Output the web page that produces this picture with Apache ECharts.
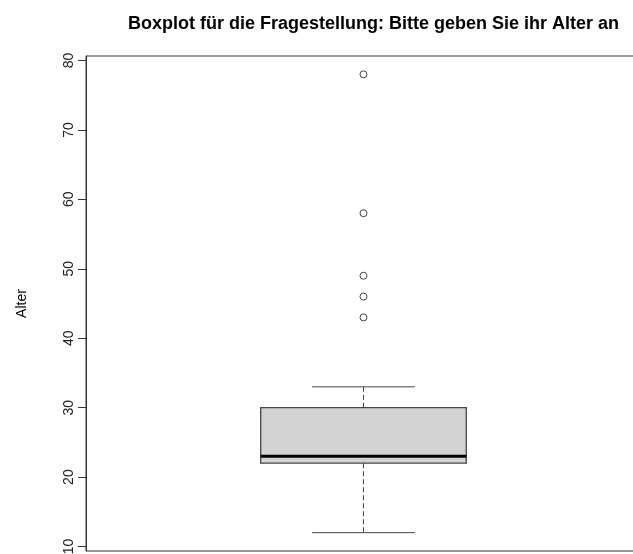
<!DOCTYPE html>
<html>
<head>
<meta charset="utf-8">
<script src="https://cdn.jsdelivr.net/npm/echarts@6/dist/echarts.min.js"></script>
<style>
html,body{margin:0;padding:0;background:#fff;overflow:hidden;}
#chart{width:633px;height:554px;}
</style>
</head>
<body>
<div id="chart"></div>
<script>
// Data
const categories = ['Alter'];
const boxStats = [12, 22, 23, 30, 33]; // lower whisker, Q1, median, Q3, upper whisker
const outliers = [43, 46, 49, 58, 78];
const yTicks = [10, 20, 30, 40, 50, 60, 70, 80];
const titleText = 'Boxplot für die Fragestellung: Bitte geben Sie ihr Alter an';
const yName = 'Alter';

// R-style axis extension (4% beyond data range)
const dataMin = Math.min(boxStats[0], ...outliers);
const dataMax = Math.max(boxStats[4], ...outliers);
const ext = (dataMax - dataMin) * 0.04;

const chart = echarts.init(document.getElementById('chart'), null, {renderer: 'canvas'});
const font = '"Liberation Sans", Arial, sans-serif';

chart.setOption({
  backgroundColor: '#ffffff',
  animation: false,
  title: {
    text: titleText,
    left: 123,
    top: 10,
    textStyle: {fontFamily: font, fontWeight: 'bold', fontSize: 18, color: '#000'}
  },
  grid: {
    left: 86, width: 555, top: 56, height: 495,
    outerBoundsMode: 'none',
    containLabel: false,
    show: true, borderColor: '#333', borderWidth: 1, backgroundColor: 'transparent'
  },
  xAxis: {
    type: 'value', min: 0.46, max: 1.54,
    axisLine: {show: false}, axisTick: {show: false}, axisLabel: {show: false}, splitLine: {show: false}
  },
  yAxis: {
    type: 'value',
    min: dataMin - ext, max: dataMax + ext,
    name: yName,
    nameLocation: 'middle',
    nameGap: 57,
    nameRotate: 90,
    nameTextStyle: {fontFamily: font, fontSize: 14, color: '#000'},
    axisLine: {show: true, lineStyle: {color: '#333', width: 1}},
    axisTick: {show: true, length: 8, customValues: yTicks, lineStyle: {color: '#333'}},
    axisLabel: {
      customValues: yTicks, rotate: 90, margin: 10,
      fontFamily: font, fontSize: 14, color: '#222'
    },
    splitLine: {show: false}
  },
  series: [
    {
      type: 'custom',
      name: categories[0],
      data: [[1].concat(boxStats)],
      renderItem: function (params, api) {
        const x = api.value(0);
        const lo = api.value(1), q1 = api.value(2), med = api.value(3), q3 = api.value(4), hi = api.value(5);
        const hb = 0.2, hc = 0.1;
        const tl = api.coord([x - hb, q3]);
        const br = api.coord([x + hb, q1]);
        const mL = api.coord([x - hb, med]);
        const mR = api.coord([x + hb, med]);
        const cTopL = api.coord([x - hc, hi]);
        const cTopR = api.coord([x + hc, hi]);
        const cBotL = api.coord([x - hc, lo]);
        const cBotR = api.coord([x + hc, lo]);
        const cHi = api.coord([x, hi]);
        const cQ3 = api.coord([x, q3]);
        const cQ1 = api.coord([x, q1]);
        const cLo = api.coord([x, lo]);
        const lineCol = '#444';
        return {
          type: 'group',
          children: [
            {type: 'line', shape: {x1: cHi[0], y1: cHi[1], x2: cQ3[0], y2: cQ3[1]},
             style: {stroke: lineCol, lineWidth: 1, lineDash: [5, 3]}},
            {type: 'line', shape: {x1: cQ1[0], y1: cQ1[1], x2: cLo[0], y2: cLo[1]},
             style: {stroke: lineCol, lineWidth: 1, lineDash: [5, 3]}},
            {type: 'line', shape: {x1: cTopL[0], y1: cTopL[1], x2: cTopR[0], y2: cTopR[1]},
             style: {stroke: lineCol, lineWidth: 1}},
            {type: 'line', shape: {x1: cBotL[0], y1: cBotL[1], x2: cBotR[0], y2: cBotR[1]},
             style: {stroke: lineCol, lineWidth: 1}},
            {type: 'rect', shape: {x: tl[0], y: tl[1], width: br[0] - tl[0], height: br[1] - tl[1]},
             style: {fill: '#d3d3d3', stroke: lineCol, lineWidth: 1.3}},
            {type: 'line', shape: {x1: mL[0], y1: mL[1], x2: mR[0], y2: mR[1]},
             style: {stroke: '#000', lineWidth: 3}}
          ]
        };
      }
    },
    {
      type: 'scatter',
      data: outliers.map(v => [1, v]),
      symbol: 'circle',
      symbolSize: 7,
      z: 5,
      itemStyle: {color: '#ffffff', borderColor: '#444', borderWidth: 1, opacity: 1}
    }
  ]
});
</script>
</body>
</html>
